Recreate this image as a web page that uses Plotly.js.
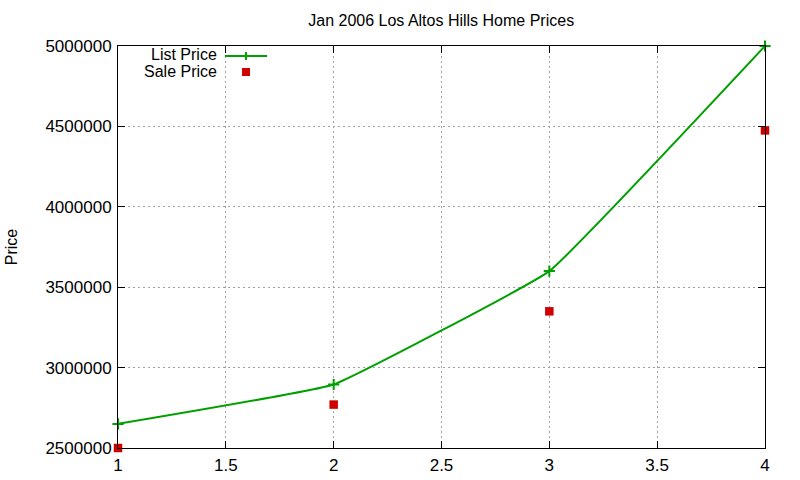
<!DOCTYPE html>
<html>
<head>
<meta charset="utf-8">
<script src="https://cdn.plot.ly/plotly-3.0.1.min.js"></script>
<style>html,body{margin:0;padding:0;background:#fff;}#chart{width:800px;height:480px;}</style>
</head>
<body>
<div id="chart"></div>
<script>
const months = [1, 2, 3, 4];
const listPrice = [2650000, 2895000, 3600000, 5000000];
const salePrice = [2500000, 2770000, 3350000, 4475000];
const seriesNames = ['List Price', 'Sale Price'];
const chartTitle = 'Jan 2006 Los Altos Hills Home Prices';
const yTitle = 'Price';

const FONT = 'Liberation Sans';
const GREEN = '#00a000';
const RED = '#d00000';

const traces = [
  {
    x: months, y: listPrice, name: seriesNames[0], type: 'scatter', mode: 'lines+markers',
    line: {color: GREEN, width: 2, shape: 'spline', smoothing: 0.25},
    marker: {symbol: 'cross-thin', size: 8, line: {color: GREEN, width: 2}, color: GREEN},
    cliponaxis: false, showlegend: false
  },
  {
    x: months, y: salePrice, name: seriesNames[1], type: 'scatter', mode: 'markers',
    marker: {symbol: 'square', size: 8.5, color: RED},
    cliponaxis: false, showlegend: false
  }
];

const axisCommon = {
  showline: true, linecolor: '#000', linewidth: 1, mirror: 'ticks',
  ticks: 'inside', ticklen: 7, tickcolor: '#000', tickwidth: 1,
  showgrid: true, gridcolor: '#a0a0a0', griddash: '2px,3px', gridwidth: 1,
  zeroline: false, tickfont: {family: FONT, size: 17, color: '#000'}
};

const layout = {
  width: 800, height: 480,
  margin: {l: 118, r: 35, t: 46, b: 32},
  paper_bgcolor: '#fff', plot_bgcolor: '#fff',
  font: {family: FONT, size: 16, color: '#000'},
  title: {text: chartTitle, x: 0.5515, xanchor: 'center', y: 0.958, yanchor: 'middle', font: {family: FONT, size: 16, color: '#000'}},
  xaxis: Object.assign({}, axisCommon, {range: [1, 4], dtick: 0.5, tick0: 1, ticklabelstandoff: 2}),
  yaxis: Object.assign({}, axisCommon, {range: [2500000, 5000000], dtick: 500000, tickformat: 'd', ticklabelstandoff: 2,
    title: {text: yTitle, standoff: 23, font: {family: FONT, size: 16, color: '#000'}}}),
  showlegend: false,
  annotations: [
    {xref: 'paper', yref: 'paper', x: (219 - 118) / 647, y: 1 - (55 - 46) / 402, xanchor: 'right', yanchor: 'middle', text: seriesNames[0], showarrow: false, font: {family: FONT, size: 16, color: '#000'}},
    {xref: 'paper', yref: 'paper', x: (219 - 118) / 647, y: 1 - (71 - 46) / 402, xanchor: 'right', yanchor: 'middle', text: seriesNames[1], showarrow: false, font: {family: FONT, size: 16, color: '#000'}}
  ],
  shapes: [
    {type: 'line', xref: 'paper', yref: 'paper', x0: (225 - 118) / 647, x1: (267 - 118) / 647, y0: 1 - (56 - 46) / 402, y1: 1 - (56 - 46) / 402, line: {color: GREEN, width: 2}},
    {type: 'line', xref: 'paper', yref: 'paper', x0: (246 - 118) / 647, x1: (246 - 118) / 647, y0: 1 - (52 - 46) / 402, y1: 1 - (60 - 46) / 402, line: {color: GREEN, width: 2}},
    {type: 'rect', xref: 'paper', yref: 'paper', x0: (242 - 118) / 647, x1: (250 - 118) / 647, y0: 1 - (68 - 46) / 402, y1: 1 - (76 - 46) / 402, fillcolor: RED, line: {width: 0}}
  ]
};

Plotly.newPlot('chart', traces, layout, {displayModeBar: false, staticPlot: true});
</script>
</body>
</html>
